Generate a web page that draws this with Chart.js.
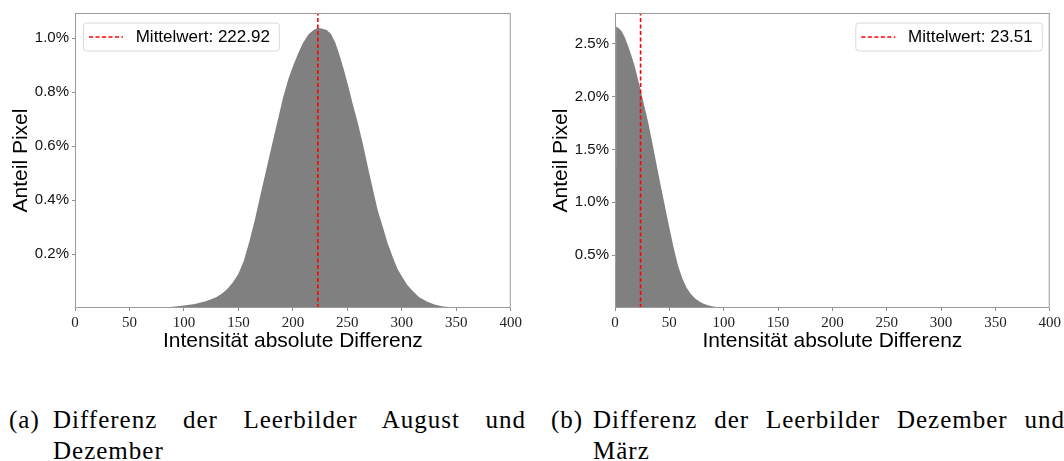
<!DOCTYPE html>
<html>
<head>
<meta charset="utf-8">
<script src="https://cdn.jsdelivr.net/npm/chart.js@4.4.1/dist/chart.umd.min.js"></script>
<style>
  body { margin: 0; background: #fff; width: 1064px; height: 461px; overflow: hidden; position: relative; }
  .box { position: absolute; top: 0; height: 360px; }
  .cap { position: absolute; font-family: "Liberation Serif", "Times New Roman", serif; font-size: 25px; color: #000; letter-spacing: 1px; line-height: 31px; }
  .line1 { text-align: justify; text-align-last: justify; }
</style>
</head>
<body>
<div class="box" style="left:0;width:525px"><canvas id="grafA" width="525" height="360"></canvas></div>
<div class="box" style="left:540px;width:524px"><canvas id="grafB" width="524" height="360"></canvas></div>

<div class="cap" style="left:9px;top:404px">(a)</div>
<div class="cap" style="left:53px;top:404px;width:473px">
  <div class="line1">Differenz der Leerbilder August und</div>
  <div>Dezember</div>
</div>
<div class="cap" style="left:551px;top:404px">(b)</div>
<div class="cap" style="left:593px;top:404px;width:472px">
  <div class="line1">Differenz der Leerbilder Dezember und</div>
  <div>März</div>
</div>

<script>
// Achse X (Ticks)
const xTicks = [0, 50, 100, 150, 200, 250, 300, 350, 400];
const yTicksA = [0.2, 0.4, 0.6, 0.8, 1.0];
const yTicksB = [0.5, 1.0, 1.5, 2.0, 2.5];

// (a) August - Dezember: Intensität / Anteil in %
const intensA = [0, 60, 70, 80, 90, 100, 110, 120, 125, 130, 135, 140, 145, 150, 155,
  160, 165, 170, 176, 182, 187, 191, 196, 200, 205, 209, 214, 219, 223, 227, 231, 235,
  239, 243, 247, 251, 255, 260, 265, 269, 274, 278, 283, 287, 292, 296, 301, 305, 310,
  316, 323, 330, 338, 347, 356, 368, 375, 400];
const anteilA = [0, 0, 0.001, 0.002, 0.005, 0.009, 0.015, 0.025, 0.032, 0.041, 0.054, 0.071, 0.095, 0.127, 0.175,
  0.245, 0.325, 0.415, 0.52, 0.625, 0.71, 0.78, 0.85, 0.895, 0.945, 0.98, 1.012, 1.03, 1.038, 1.035, 1.03, 1.015,
  0.983, 0.935, 0.88, 0.82, 0.755, 0.68, 0.595, 0.52, 0.43, 0.36, 0.295, 0.24, 0.185, 0.145, 0.111, 0.085, 0.063,
  0.04, 0.024, 0.013, 0.006, 0.003, 0.001, 0.0003, 0, 0];

// (b) Dezember - März
const intensB = [0, 0.95, 1, 3, 6, 9, 12, 15, 18, 21, 24, 27, 30, 34, 38, 42, 46, 50,
  54, 58, 62, 66, 70, 74, 78, 82, 87, 92, 97, 102, 108, 115, 400];
const anteilB = [1.31, 1.31, 2.66, 2.65, 2.62, 2.56, 2.48, 2.39, 2.29, 2.17, 2.04, 1.91, 1.78, 1.58, 1.37, 1.16, 0.96, 0.76,
  0.57, 0.40, 0.28, 0.19, 0.13, 0.088, 0.058, 0.037, 0.021, 0.011, 0.005, 0.002, 0.0005, 0, 0];

const mittelA = 222.92;
const mittelB = 23.51;
const yMaxA = 1.093;
const yMaxB = 2.79;

const SANS = '"Liberation Sans", Arial, Helvetica, sans-serif';
const SERIF = '"Liberation Serif", "Times New Roman", serif';

// Rahmen + Legende (Box mit gestrichelter Linie)
const rahmen = {
  id: "rahmen",
  afterDraw(chart, args, opts) {
    const { ctx, chartArea: a } = chart;
    ctx.save();
    ctx.strokeStyle = "#9a9a9a";
    ctx.lineWidth = 1;
    ctx.strokeRect(a.left + 0.5, a.top + 0.5, a.right - a.left - 1, a.bottom - a.top - 1);

    const ds = chart.data.datasets[0];
    ctx.font = "17px " + SANS;
    const tw = ctx.measureText(ds.label).width;
    const w = 6 + 34 + 12.7 + tw + 9;
    const h = 28;
    const x0 = opts.align === "right" ? a.right - 8 - w : a.left + 8;
    const y0 = a.top + 9.5;
    ctx.beginPath();
    ctx.roundRect(x0 + 0.5, y0 + 0.5, w, h, 3);
    ctx.fillStyle = "rgba(255,255,255,0.8)";
    ctx.fill();
    ctx.strokeStyle = "#d9d9d9";
    ctx.stroke();

    const yc = y0 + h / 2 + 0.5;
    ctx.beginPath();
    ctx.setLineDash(ds.borderDash);
    ctx.strokeStyle = ds.borderColor;
    ctx.lineWidth = ds.borderWidth;
    ctx.moveTo(x0 + 6, yc);
    ctx.lineTo(x0 + 40, yc);
    ctx.stroke();
    ctx.setLineDash([]);

    ctx.fillStyle = "#000";
    ctx.textBaseline = "middle";
    ctx.fillText(ds.label, x0 + 52.7, yc);
    ctx.restore();
  },
};

function crearGrafica(id, xs, ys, mittel, yMax, yTicks, align) {
  const puntos = xs.map((x, i) => ({ x: x, y: ys[i] }));
  return new Chart(document.getElementById(id), {
    type: "line",
    data: {
      datasets: [
        {
          label: "Mittelwert: " + mittel.toFixed(2),
          data: [{ x: mittel, y: 0 }, { x: mittel, y: yMax }],
          borderColor: "#ff0000",
          borderWidth: 1.6,
          borderDash: [4, 2.5],
          pointRadius: 0,
          fill: false,
        },
        {
          label: "Histogramm",
          data: puntos,
          backgroundColor: "#808080",
          borderColor: "#808080",
          borderWidth: 0,
          pointRadius: 0,
          tension: 0,
          fill: "origin",
        },
      ],
    },
    options: {
      responsive: false,
      animation: false,
      layout: { padding: { top: 13, right: 14, left: 0, bottom: 0 } },
      plugins: {
        legend: { display: false },
        tooltip: { enabled: false },
        rahmen: { align: align },
      },
      scales: {
        x: {
          type: "linear",
          min: 0,
          max: 400,
          afterBuildTicks: (s) => { s.ticks = xTicks.map((v) => ({ value: v })); },
          afterFit: (s) => { s.height = 52; },
          ticks: { font: { family: SERIF, size: 15 }, color: "#222", padding: 3, maxRotation: 0 },
          grid: { drawOnChartArea: false, tickLength: 3, color: "#909090" },
          border: { display: false },
          title: {
            display: true,
            text: "Intensität absolute Differenz",
            font: { family: SANS, size: 21 },
            color: "#000",
            padding: { top: 0, bottom: 6.4 },
          },
        },
        y: {
          min: 0,
          max: yMax,
          afterBuildTicks: (s) => { s.ticks = yTicks.map((v) => ({ value: v })); },
          afterFit: (s) => { s.width = 75; },
          ticks: {
            callback: (v) => Number(v).toFixed(1) + "%",
            font: { family: SANS, size: 15 },
            color: "#111",
            padding: 3,
          },
          grid: { drawOnChartArea: false, tickLength: 3, color: "#909090" },
          border: { display: false },
          title: {
            display: true,
            text: "Anteil Pixel",
            font: { family: SANS, size: 21 },
            color: "#000",
            padding: { top: 8.8, bottom: 0 },
          },
        },
      },
    },
    plugins: [rahmen],
  });
}

crearGrafica("grafA", intensA, anteilA, mittelA, yMaxA, yTicksA, "left");
crearGrafica("grafB", intensB, anteilB, mittelB, yMaxB, yTicksB, "right");
</script>
</body>
</html>
